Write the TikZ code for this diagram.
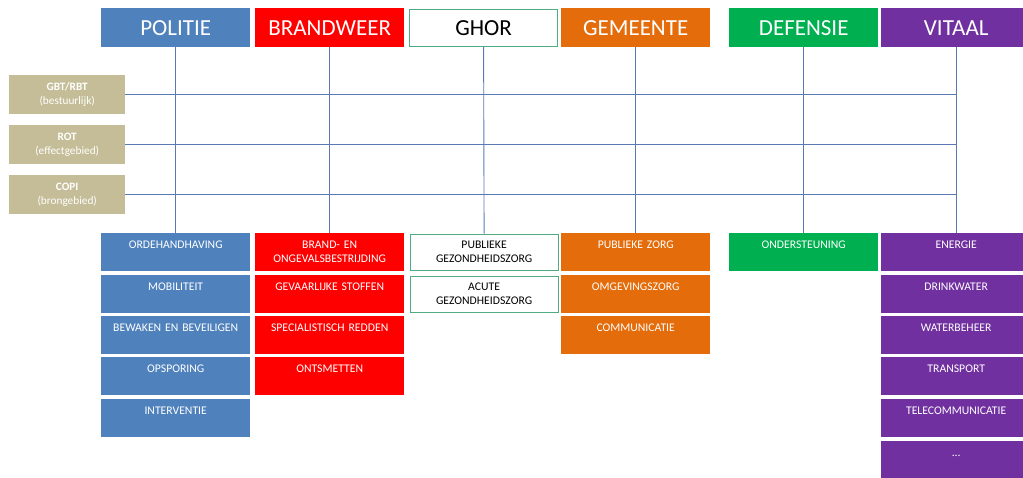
\documentclass[tikz,border=0pt]{standalone}
\usepackage{fontspec}
\setmainfont{Carlito}
\definecolor{pblue}{HTML}{4F81BD}
\definecolor{bred}{HTML}{FF0000}
\definecolor{gorange}{HTML}{E46C0A}
\definecolor{dgreen}{HTML}{00B050}
\definecolor{vpurple}{HTML}{7030A0}
\definecolor{tan}{HTML}{C4BD97}
\definecolor{ghorline}{RGB}{80,170,130}
\definecolor{conncol}{RGB}{90,120,180}
\tikzset{
  head/.style={anchor=north west, minimum width=149pt, minimum height=39pt, inner sep=0pt,
    font=\fontsize{23}{26}\selectfont, text=white},
  cell/.style={anchor=north west, text width=149pt, align=center, inner xsep=0pt, inner ysep=0pt,
    text height=15.5pt, text depth=22.5pt, font=\fontsize{11.7}{13.8}\selectfont, text=white},
  level/.style={anchor=north west, fill=tan, minimum width=116pt, minimum height=39pt, inner sep=0pt,
    align=center, font=\fontsize{11.3}{14}\selectfont, text=white},
  ghorbox/.style={fill=white, draw=ghorline, line width=1.2pt, text=black},
  conn/.style={draw=conncol, line width=0.9pt}
}
\begin{document}
\begin{tikzpicture}[x=1pt,y=-1pt]
\useasboundingbox (0,0) rectangle (1023,477);
\clip (0,0) rectangle (1023,477);
% headers
\node[head, fill=pblue] (pol) at (101,8) {POLITIE};
\node[head, fill=bred] (brw) at (255,8) {BRANDWEER};
\node[head, ghorbox, minimum width=148pt, minimum height=37pt] (ghor) at (409,9) {GHOR};
\node[head, fill=gorange] (gem) at (561,8) {GEMEENTE};
\node[head, fill=dgreen] (def) at (729,8) {DEFENSIE};
\node[head, fill=vpurple, minimum width=150pt] (vit) at (881,8) {VITAAL};
% levels
\node[level] (gbt) at (9,75) {\textbf{GBT/RBT}\\(bestuurlijk)};
\node[level] (rot) at (9,125) {\textbf{ROT}\\(effectgebied)};
\node[level] (copi) at (9,175) {\textbf{COPI}\\(brongebied)};
% politie
\node[cell, fill=pblue] (p1) at (101,233) {ORDEHANDHAVING};
\node[cell, fill=pblue] (p2) at (101,275) {MOBILITEIT};
\node[cell, fill=pblue] (p3) at (101,316) {BEWAKEN EN BEVEILIGEN};
\node[cell, fill=pblue] (p4) at (101,357) {OPSPORING};
\node[cell, fill=pblue] (p5) at (101,399) {INTERVENTIE};
% brandweer
\node[cell, fill=bred] (b1) at (255,233) {BRAND- EN\\ONGEVALSBESTRIJDING};
\node[cell, fill=bred] (b2) at (255,275) {GEVAARLIJKE STOFFEN};
\node[cell, fill=bred] (b3) at (255,316) {SPECIALISTISCH REDDEN};
\node[cell, fill=bred] (b4) at (255,357) {ONTSMETTEN};
% ghor
\node[cell, ghorbox, text width=148pt, text height=14.8pt, text depth=21.8pt] (g1) at (409.5,233.5) {PUBLIEKE\\GEZONDHEIDSZORG};
\node[cell, ghorbox, text width=148pt, text height=14.8pt, text depth=21.8pt] (g2) at (409.5,275.5) {ACUTE\\GEZONDHEIDSZORG};
% gemeente
\node[cell, fill=gorange] (m1) at (561,233) {PUBLIEKE ZORG};
\node[cell, fill=gorange] (m2) at (561,275) {OMGEVINGSZORG};
\node[cell, fill=gorange] (m3) at (561,316) {COMMUNICATIE};
% defensie
\node[cell, fill=dgreen] (d1) at (729,233) {ONDERSTEUNING};
% vitaal
\node[cell, fill=vpurple, text width=150pt] (v1) at (881,233) {ENERGIE};
\node[cell, fill=vpurple, text width=150pt] (v2) at (881,275) {DRINKWATER};
\node[cell, fill=vpurple, text width=150pt] (v3) at (881,316) {WATERBEHEER};
\node[cell, fill=vpurple, text width=150pt] (v4) at (881,357) {TRANSPORT};
\node[cell, fill=vpurple, text width=150pt] (v5) at (881,399) {TELECOMMUNICATIE};
\node[cell, fill=vpurple, text width=150pt] (v6) at (881,441) {...};
% connectors
\draw[conn] (pol.south) -- (p1.north);
\draw[conn] (brw.south) -- (b1.north);
\draw[conn] (ghor.south) -- (g1.north);
\draw[conn] (gem.south) -- (m1.north);
\draw[conn] (def.south) -- (d1.north);
\draw[conn] (vit.south) -- (v1.north);
\draw[conn] (gbt.east) -- (gbt.east -| vit.south);
\draw[conn] (rot.east) -- (rot.east -| vit.south);
\draw[conn] (copi.east) -- (copi.east -| vit.south);
\end{tikzpicture}
\end{document}
